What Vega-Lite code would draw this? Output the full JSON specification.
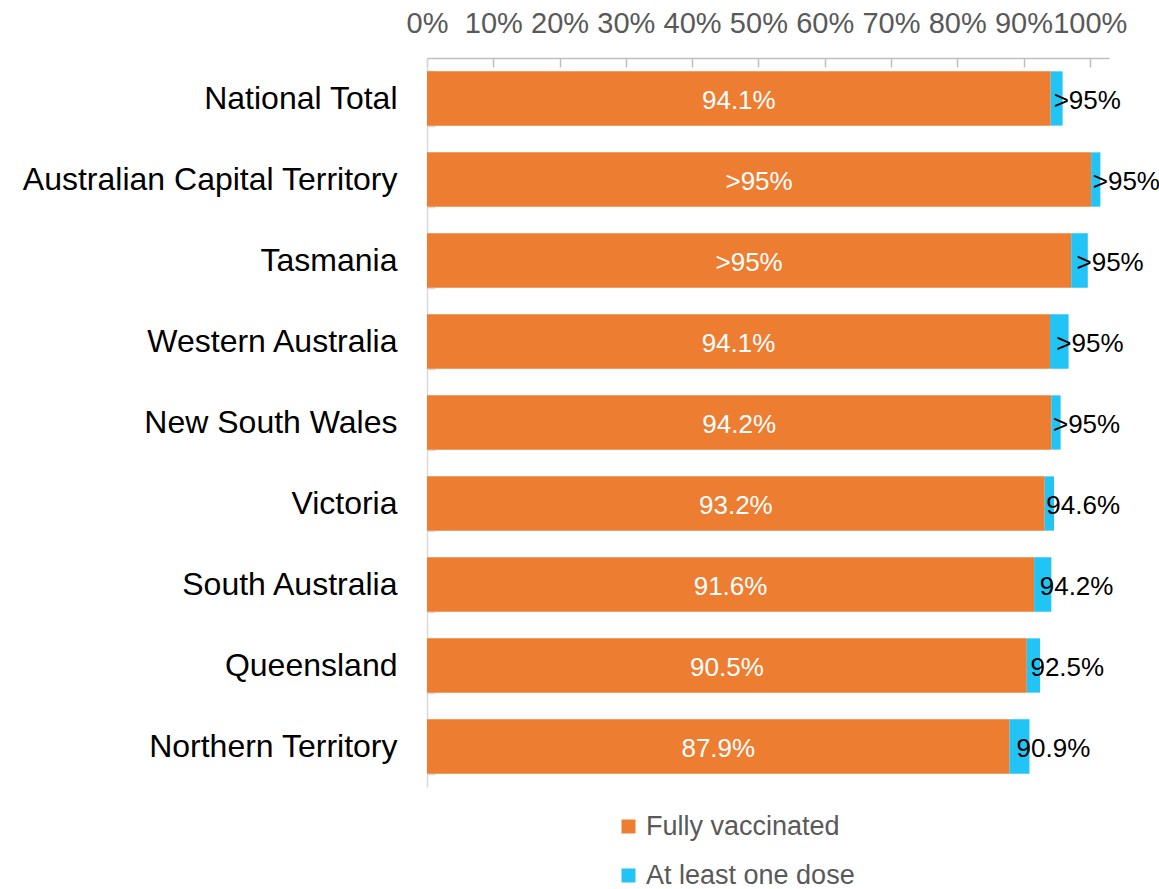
{
  "$schema": "https://vega.github.io/schema/vega-lite/v6.json",
  "width": 682,
  "height": 729,
  "autosize": {"type": "none"},
  "padding": {"left": 427, "top": 58, "right": 50, "bottom": 102},
  "background": "white",
  "config": {
    "font": "Liberation Sans",
    "view": {"stroke": null}
  },
  "data": {
    "values": [
      {"state": "National Total", "fully": 94.1, "total": 95.9, "fullyLabel": "94.1%", "totalLabel": ">95%"},
      {"state": "Australian Capital Territory", "fully": 100.2, "total": 101.6, "fullyLabel": ">95%", "totalLabel": ">95%"},
      {"state": "Tasmania", "fully": 97.2, "total": 99.7, "fullyLabel": ">95%", "totalLabel": ">95%"},
      {"state": "Western Australia", "fully": 94.0, "total": 96.8, "fullyLabel": "94.1%", "totalLabel": ">95%"},
      {"state": "New South Wales", "fully": 94.2, "total": 95.6, "fullyLabel": "94.2%", "totalLabel": ">95%"},
      {"state": "Victoria", "fully": 93.2, "total": 94.6, "fullyLabel": "93.2%", "totalLabel": "94.6%"},
      {"state": "South Australia", "fully": 91.6, "total": 94.2, "fullyLabel": "91.6%", "totalLabel": "94.2%"},
      {"state": "Queensland", "fully": 90.5, "total": 92.5, "fullyLabel": "90.5%", "totalLabel": "92.5%"},
      {"state": "Northern Territory", "fully": 87.9, "total": 90.9, "fullyLabel": "87.9%", "totalLabel": "90.9%"}
    ]
  },
  "transform": [
    {"calculate": "datum.fully / 2", "as": "fullyMid"},
    {"calculate": "(datum.fully + datum.total) / 2", "as": "doseMid"}
  ],
  "encoding": {
    "y": {
      "field": "state",
      "type": "nominal",
      "sort": null,
      "scale": {"paddingInner": 0.33, "paddingOuter": 0.165},
      "axis": {
        "title": null,
        "labelFontSize": 32,
        "labelColor": "#000000",
        "labelPadding": 38,
        "labelLimit": 500,
        "tickBand": "extent",
        "tickSize": -8,
        "tickColor": "#D9D9D9",
        "tickWidth": 1.5,
        "domainColor": "#D9D9D9",
        "domainWidth": 1.5
      }
    }
  },
  "layer": [
    {
      "mark": {"type": "bar"},
      "encoding": {
        "x": {
          "field": "fully",
          "type": "quantitative",
          "scale": {"domain": [0, 102.9], "nice": false},
          "axis": {
            "orient": "top",
            "title": null,
            "values": [0, 10, 20, 30, 40, 50, 60, 70, 80, 90, 100],
            "labelExpr": "datum.value + '%'",
            "labelFontSize": 29,
            "labelColor": "#595959",
            "labelPadding": 29,
            "labelFlush": false,
            "labelOverlap": false,
            "grid": false,
            "tickSize": -9,
            "tickColor": "#BFBFBF",
            "tickWidth": 1.5,
            "domainColor": "#BFBFBF",
            "domainWidth": 1.5
          }
        },
        "color": {
          "datum": "Fully vaccinated",
          "type": "nominal",
          "scale": {"domain": ["Fully vaccinated", "At least one dose"], "range": ["#ED7D31", "#21C4F5"]},
          "legend": {
            "title": null,
            "orient": "none",
            "legendX": 188,
            "legendY": 755,
            "direction": "vertical",
            "symbolType": "square",
            "symbolSize": 196,
            "symbolStrokeWidth": 0,
            "labelFontSize": 27,
            "labelColor": "#595959",
            "labelOffset": 4,
            "labelLimit": 400,
            "rowPadding": 21
          }
        }
      }
    },
    {
      "mark": {"type": "bar"},
      "encoding": {
        "x": {"field": "fully", "type": "quantitative"},
        "x2": {"field": "total"},
        "color": {"datum": "At least one dose", "type": "nominal"}
      }
    },
    {
      "mark": {"type": "text", "color": "#FFFFFF", "fontSize": 26, "align": "center", "baseline": "middle", "dy": 2},
      "encoding": {
        "x": {"field": "fullyMid", "type": "quantitative"},
        "text": {"field": "fullyLabel"}
      }
    },
    {
      "mark": {"type": "text", "color": "#000000", "fontSize": 26, "align": "left", "baseline": "middle", "dx": -3, "dy": 2},
      "encoding": {
        "x": {"field": "doseMid", "type": "quantitative"},
        "text": {"field": "totalLabel"}
      }
    }
  ]
}
